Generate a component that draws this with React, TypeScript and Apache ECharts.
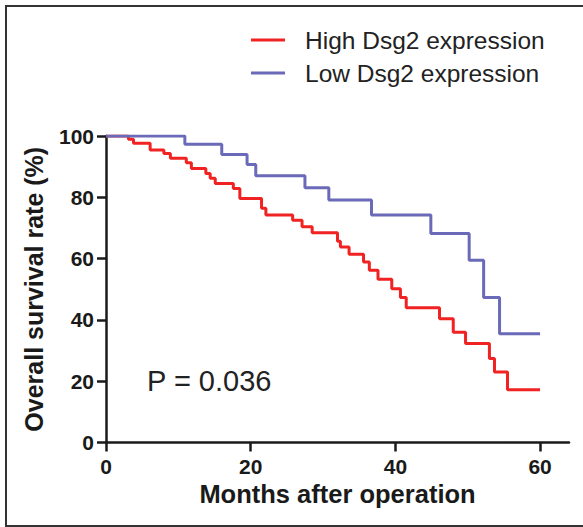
import React, { useEffect, useRef } from "react";
import * as echarts from "echarts";

const seriesNames = ["High Dsg2 expression", "Low Dsg2 expression"];
const highMonths = [0, 3.1, 3.8, 6.1, 8.0, 8.9, 11.1, 11.8, 13.8, 14.4, 15.1, 17.6, 18.5, 21.5, 22.1, 25.8, 27.1, 28.5, 32.0, 32.4, 33.6, 35.6, 36.4, 37.6, 39.5, 40.7, 41.5, 46.1, 48.0, 49.7, 53.0, 53.7, 55.5, 60];
const highSurvival = [100, 98.9, 97.6, 95.4, 94.3, 92.7, 91.3, 89.4, 87.8, 86.2, 84.5, 82.9, 79.6, 76.4, 74.2, 72.5, 70.4, 68.4, 65.7, 63.8, 61.4, 58.9, 56.2, 53.3, 50.2, 47.3, 44.0, 40.4, 36.0, 32.3, 27.4, 23.0, 17.2, 17.2];
const lowMonths = [0, 10.9, 16.0, 19.5, 20.7, 27.5, 30.8, 36.7, 44.9, 50.2, 52.2, 54.4, 60];
const lowSurvival = [100, 97.3, 94.0, 90.7, 87.0, 83.1, 79.1, 74.2, 68.2, 59.5, 47.3, 35.5, 35.5];
const xTicks = [0, 20, 40, 60];
const yTicks = [0, 20, 40, 60, 80, 100];
const pText = "P = 0.036";

const FONT = "'Liberation Sans', Arial, sans-serif";

export default function App() {
  const ref = useRef<HTMLDivElement>(null);
  useEffect(() => {
    if (!ref.current) return;
    const chart = echarts.init(ref.current, null, { renderer: "svg" });
    const toPairs = (xs: number[], ys: number[]) => xs.map((x, i) => [x, ys[i]]);
    chart.setOption({
      animation: false,
      backgroundColor: "#ffffff",
      textStyle: { fontFamily: FONT },
      grid: { left: 106, right: 14, top: 136, bottom: 84.5, containLabel: false },
      legend: {
        orient: "vertical",
        left: 251,
        top: 23.5,
        padding: 0,
        itemGap: 0,
        itemWidth: 34,
        itemHeight: 3,
        icon: "rect",
        textStyle: { fontSize: 24.5, color: "#222", fontFamily: FONT, lineHeight: 33, padding: [0, 0, 0, 15] },
        data: seriesNames,
      },
      xAxis: {
        type: "value",
        min: 0,
        max: 64,
        name: "Months after operation",
        nameLocation: "middle",
        nameGap: 38,
        nameTextStyle: { fontSize: 25.5, fontWeight: "bold", color: "#1a1a1a", fontFamily: FONT },
        axisLine: { show: true, onZero: false, lineStyle: { color: "#1a1a1a", width: 2.5 } },
        axisTick: { show: true, length: 9, customValues: xTicks, lineStyle: { color: "#1a1a1a", width: 2.5 } },
        axisLabel: { customValues: xTicks, margin: 13, fontSize: 21, fontWeight: "bold", color: "#1a1a1a", fontFamily: FONT },
        splitLine: { show: false },
      },
      yAxis: {
        type: "value",
        min: 0,
        max: 100,
        interval: 20,
        name: "Overall survival rate (%)",
        nameLocation: "middle",
        nameRotate: 90,
        nameGap: 60,
        nameTextStyle: { fontSize: 25, fontWeight: "bold", color: "#1a1a1a", fontFamily: FONT },
        axisLine: { show: true, onZero: false, lineStyle: { color: "#1a1a1a", width: 2.5 } },
        axisTick: { show: true, length: 9, customValues: yTicks, lineStyle: { color: "#1a1a1a", width: 2.5 } },
        axisLabel: { customValues: yTicks, margin: 12, fontSize: 21, fontWeight: "bold", color: "#1a1a1a", fontFamily: FONT },
        splitLine: { show: false },
      },
      series: [
        {
          name: seriesNames[0],
          type: "line",
          step: "end",
          showSymbol: false,
          symbol: "none",
          data: toPairs(highMonths, highSurvival),
          lineStyle: { color: "#f02222", width: 3 },
          itemStyle: { color: "#f02222" },
          z: 2,
        },
        {
          name: seriesNames[1],
          type: "line",
          step: "end",
          showSymbol: false,
          symbol: "none",
          data: toPairs(lowMonths, lowSurvival),
          lineStyle: { color: "#6a6ab8", width: 3 },
          itemStyle: { color: "#6a6ab8" },
          z: 3,
        },
      ],
      graphic: [
        {
          type: "rect",
          shape: { x: 6, y: 6, width: 600, height: 520 },
          style: { fill: "none", stroke: "#333", lineWidth: 2 },
          silent: true,
          z: 10,
        },
        {
          type: "text",
          left: 147,
          top: 366,
          style: { text: pText, fontSize: 29, fill: "#222", fontFamily: FONT },
          z: 10,
        },
      ],
    });
    return () => chart.dispose();
  }, []);
  return <div ref={ref} style={{ width: 583, height: 527, position: "absolute", left: 0, top: 0 }} />;
}
